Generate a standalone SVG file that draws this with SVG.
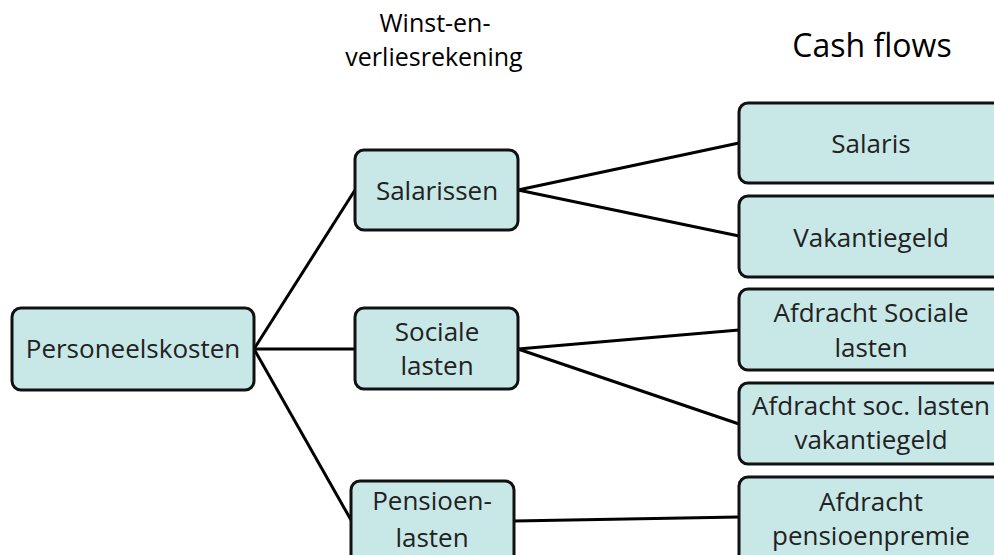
<svg xmlns="http://www.w3.org/2000/svg" width="994" height="555" viewBox="0 0 994 555">
<style>
.box{fill:#c8e8e7;stroke:#111;stroke-width:3}
.t{font-family:"Open Sans","Liberation Sans",sans-serif;font-size:26px;fill:#222;text-anchor:middle}
.h{font-family:"Open Sans","Liberation Sans",sans-serif;fill:#000;text-anchor:middle}
.c{stroke:#000;stroke-width:3;fill:none}
</style>
<rect width="994" height="555" fill="#fff"/>
<g id="headers">
<text class="h" x="435" y="32" font-size="25">Winst-en-</text>
<text class="h" x="434" y="66" font-size="25">verliesrekening</text>
<text class="h" x="872" y="57" font-size="32">Cash flows</text>
</g>
<g id="connectors">
<line class="c" x1="254" y1="349" x2="355" y2="190"/>
<line class="c" x1="254" y1="349" x2="355" y2="349"/>
<line class="c" x1="254" y1="349" x2="351" y2="520"/>
<line class="c" x1="518" y1="190" x2="739" y2="143"/>
<line class="c" x1="518" y1="190" x2="739" y2="236"/>
<line class="c" x1="518" y1="349" x2="739" y2="330"/>
<line class="c" x1="518" y1="349" x2="739" y2="424"/>
<line class="c" x1="514" y1="521" x2="739" y2="517"/>
</g>
<g id="personeelskosten">
<rect class="box" x="12" y="308" width="242" height="82" rx="9"/>
<text class="t" x="133" y="358">Personeelskosten</text>
</g>
<g id="salarissen">
<rect class="box" x="355" y="150" width="163" height="80" rx="9"/>
<text class="t" x="437" y="200">Salarissen</text>
</g>
<g id="sociale-lasten">
<rect class="box" x="355" y="308" width="163" height="81" rx="9"/>
<text class="t" x="437" y="341">Sociale</text>
<text class="t" x="437" y="375">lasten</text>
</g>
<g id="pensioenlasten">
<rect class="box" x="351" y="481" width="163" height="90" rx="9"/>
<text class="t" x="432" y="510">Pensioen-</text>
<text class="t" x="432" y="547">lasten</text>
</g>
<g id="salaris">
<rect class="box" x="739" y="103" width="264" height="80" rx="9"/>
<text class="t" x="871" y="153">Salaris</text>
</g>
<g id="vakantiegeld">
<rect class="box" x="739" y="196" width="264" height="81" rx="9"/>
<text class="t" x="871" y="247">Vakantiegeld</text>
</g>
<g id="afdracht-sociale-lasten">
<rect class="box" x="739" y="289" width="264" height="81" rx="9"/>
<text class="t" x="871" y="322">Afdracht Sociale</text>
<text class="t" x="871" y="357">lasten</text>
</g>
<g id="afdracht-soc-lasten-vakantiegeld">
<rect class="box" x="739" y="383" width="264" height="81" rx="9"/>
<text class="t" x="871" y="415">Afdracht soc. lasten</text>
<text class="t" x="871" y="449">vakantiegeld</text>
</g>
<g id="afdracht-pensioenpremie">
<rect class="box" x="739" y="477" width="264" height="90" rx="9"/>
<text class="t" x="871" y="511">Afdracht</text>
<text class="t" x="871" y="545">pensioenpremie</text>
</g>
</svg>
